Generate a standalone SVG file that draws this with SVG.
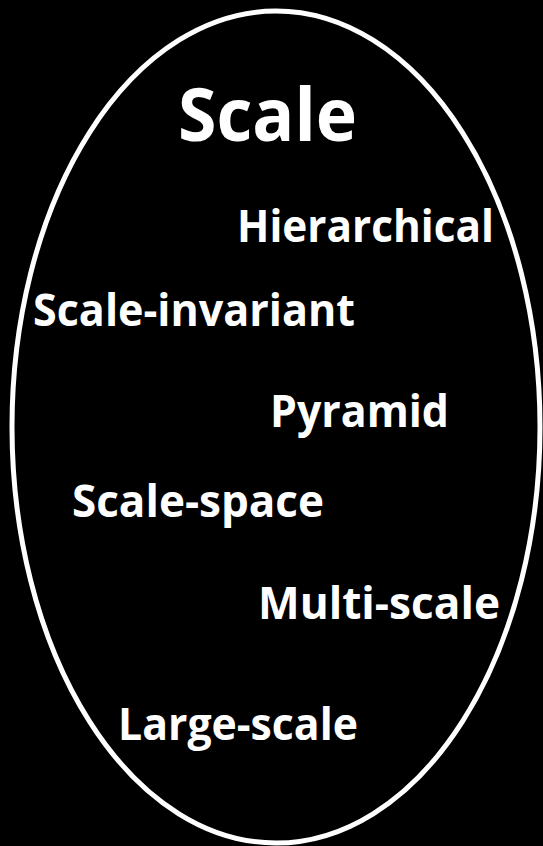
<svg xmlns="http://www.w3.org/2000/svg" width="543" height="846" viewBox="0 0 543 846">
<style>
.t{fill:#fff;font-family:"Open Sans","Lato","DejaVu Sans",sans-serif;font-weight:bold;font-size:45px}
.title{font-size:74px}
</style>
<rect width="543" height="846" fill="#000"/>
<g id="scale-ellipse">
<ellipse cx="276" cy="427" rx="264" ry="416" fill="none" stroke="#fff" stroke-width="5"/>
</g>
<g id="labels">
<g id="n-scale"><text class="t title" x="178" y="141" textLength="179" lengthAdjust="spacingAndGlyphs">Scale</text></g>
<g id="n-hierarchical"><text class="t" x="237" y="242" textLength="257" lengthAdjust="spacingAndGlyphs">Hierarchical</text></g>
<g id="n-scale-invariant"><text class="t" x="33" y="326" textLength="322" lengthAdjust="spacingAndGlyphs">Scale-invariant</text></g>
<g id="n-pyramid"><text class="t" x="270" y="427" textLength="179" lengthAdjust="spacingAndGlyphs">Pyramid</text></g>
<g id="n-scale-space"><text class="t" x="72" y="517" textLength="252" lengthAdjust="spacingAndGlyphs">Scale-space</text></g>
<g id="n-multi-scale"><text class="t" x="258" y="619" textLength="242" lengthAdjust="spacingAndGlyphs">Multi-scale</text></g>
<g id="n-large-scale"><text class="t" x="118" y="740" textLength="240" lengthAdjust="spacingAndGlyphs">Large-scale</text></g>
</g>
<g id="connectors"></g>
</svg>
